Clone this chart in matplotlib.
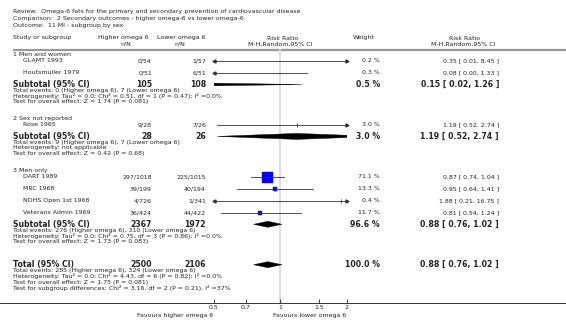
import numpy as np
import matplotlib
matplotlib.use('Agg')
import matplotlib.pyplot as plt
from matplotlib.patches import Polygon

# Header text
title_lines = ['Review:  Omega-6 fats for the primary and secondary prevention of cardiovascular disease',
               'Comparison:  2 Secondary outcomes - higher omega-6 vs lower omega-6',
               'Outcome:  11 MI - subgroup by sex']

# Study level data
group_names = ['1 Men and women', '2 Sex not reported', '3 Men only']
study_group = [0, 0, 1, 2, 2, 2, 2]
studies = ['GLAMT 1993', 'Houtsmuller 1979', 'Rose 1965', 'DART 1989', 'MRC 1968',
           'NDHS Open 1st 1968', 'Veterans Admin 1969']
higher_nN = ['0/54', '0/51', '9/28', '197/1018', '39/199', '4/726', '36/424']
lower_nN = ['1/57', '6/51', '7/26', '225/1015', '40/194', '1/341', '44/422']
rr = [0.35, 0.08, 1.19, 0.87, 0.95, 1.88, 0.81]
rr_lo = [0.01, 0.00, 0.52, 0.74, 0.64, 0.21, 0.54]
rr_hi = [8.45, 1.33, 2.74, 1.04, 1.41, 16.75, 1.24]
weights = [0.2, 0.3, 3.0, 71.1, 13.3, 0.4, 11.7]

# Subgroup totals
sub_higher_n = [105, 28, 2367]
sub_lower_n = [108, 26, 1972]
sub_weight = [0.5, 3.0, 96.6]
sub_rr = [0.15, 1.19, 0.88]
sub_lo = [0.02, 0.52, 0.76]
sub_hi = [1.26, 2.74, 1.02]
sub_notes = [
    ['Total events: 0 (Higher omega 6), 7 (Lower omega 6)',
     'Heterogeneity: Tau\u00b2 = 0.0; Chi\u00b2 = 0.51, df = 1 (P = 0.47); I\u00b2 =0.0%',
     'Test for overall effect: Z = 1.74 (P = 0.081)'],
    ['Total events: 9 (Higher omega 6), 7 (Lower omega 6)',
     'Heterogeneity: not applicable',
     'Test for overall effect: Z = 0.42 (P = 0.68)'],
    ['Total events: 276 (Higher omega 6), 310 (Lower omega 6)',
     'Heterogeneity: Tau\u00b2 = 0.0; Chi\u00b2 = 0.75, df = 3 (P = 0.86); I\u00b2 =0.0%',
     'Test for overall effect: Z = 1.73 (P = 0.083)'],
]

# Overall total
tot_higher_n = 2500
tot_lower_n = 2106
tot_weight = 100.0
tot_rr, tot_lo, tot_hi = 0.88, 0.76, 1.02
tot_notes = ['Total events: 285 (Higher omega 6), 324 (Lower omega 6)',
             'Heterogeneity: Tau\u00b2 = 0.0; Chi\u00b2 = 4.43, df = 6 (P = 0.82); I\u00b2 =0.0%',
             'Test for overall effect: Z = 1.75 (P = 0.081)',
             'Test for subgroup differences: Chi\u00b2 = 3.16, df = 2 (P = 0.21), I\u00b2 =37%']

xticks = [0.5, 0.7, 1, 1.5, 2]
xtick_labels = ['0.5', '0.7', '1', '1.5', '2']
fav_left = 'Favours higher omega 6'
fav_right = 'Favours lower omega 6'

# layout (pixels)
W, H = 566, 324
X0, X1 = 213.5, 346.5      # plot area for 0.5 .. 2
AXIS_Y = 303
FS = 4.5
FSB = 5.6
TXT = '#222222'

fig = plt.figure(figsize=(W / 100, H / 100), dpi=100)
ax = fig.add_axes([0, 0, 1, 1])
ax.set_xlim(0, W)
ax.set_ylim(H, 0)
ax.axis('off')

fx = fig.add_axes([X0 / W, (H - AXIS_Y) / H, (X1 - X0) / W, AXIS_Y / H])
fx.set_xscale('log')
fx.set_xlim(0.5, 2)
fx.set_ylim(AXIS_Y, 0)
fx.patch.set_alpha(0)
for s in fx.spines.values():
    s.set_visible(False)
fx.set_yticks([])
fx.set_xticks(xticks)
fx.set_xticklabels(xtick_labels)
fx.xaxis.set_minor_locator(matplotlib.ticker.NullLocator())
fx.tick_params(axis='x', direction='in', length=3, width=0.6, pad=1.5,
               labelsize=FS, colors=TXT)


def t(x, y, s, ha='left', bold=False, size=None):
    ax.text(x, y, s, ha=ha, va='center', color=TXT,
            fontsize=size or (FSB if bold else FS),
            fontweight='bold' if bold else 'normal')


def ci_text(r, lo, hi):
    return '%.2f [ %.2f, %.2f ]' % (r, lo, hi)


# title and column headers
for i, line in enumerate(title_lines):
    t(13, 12 + i * 6.5, line)
t(13, 38, 'Study or subgroup')
t(123, 38, 'Higher omega 6', ha='center')
t(125.5, 44, 'n/N', ha='center')
t(181, 38, 'Lower omega 6', ha='center')
t(180, 44, 'n/N', ha='center')
t(283, 38, 'Risk Ratio', ha='center')
t(280, 44, 'M-H,Random,95% CI', ha='center')
t(364, 38, 'Weight', ha='center')
t(465, 38, 'Risk Ratio', ha='center')
t(463, 44, 'M-H,Random,95% CI', ha='center')
ax.plot([13, W], [49.5, 49.5], color='#999999', lw=1.6, solid_capstyle='butt')


def draw_study(y, r, lo, hi, w):
    left = max(lo, 0.5)
    right = min(hi, 2)
    fx.plot([left, right], [y, y], color='#333333', lw=0.6, zorder=3)
    if lo < 0.5:
        fx.plot([0.5], [y], marker='<', ms=2.2, color='#333333', clip_on=False, zorder=3)
    if hi > 2:
        fx.plot([2], [y], marker='>', ms=2.2, color='#333333', clip_on=False, zorder=3)
    if 0.5 <= r <= 2:
        side = 11 * np.sqrt(w / 71.1)
        if side >= 3:
            fx.plot([r], [y], marker='s', ms=side * 0.72, mfc='#0000ff',
                    mec='#1a1a80', mew=0.3, zorder=2)
        fx.plot([r], [y], marker='|', ms=3, mew=0.6, color='#333333', zorder=4)


def draw_diamond(y, r, lo, hi, h=3.0):
    poly = Polygon([(max(lo, 1e-3), y), (r, y - h), (hi, y), (r, y + h)],
                   closed=True, facecolor='black', edgecolor='black', lw=0.3, zorder=3)
    fx.add_patch(poly)


# walk through the rows
y = 55
si = 0
for g, gname in enumerate(group_names):
    t(13, y, gname)
    y += 6
    idx = [i for i in range(len(studies)) if study_group[i] == g]
    for k, i in enumerate(idx):
        if k > 0:
            y += 12
        t(23, y, studies[i])
        t(152, y, higher_nN[i], ha='right')
        t(206, y, lower_nN[i], ha='right')
        t(380, y, '%.1f %%' % weights[i], ha='right')
        t(499, y, ci_text(rr[i], rr_lo[i], rr_hi[i]), ha='right')
        draw_study(y, rr[i], rr_lo[i], rr_hi[i], weights[i])
    y += 11.5
    t(13, y, 'Subtotal (95% CI)', bold=True)
    t(152, y, str(sub_higher_n[g]), ha='right', bold=True)
    t(206, y, str(sub_lower_n[g]), ha='right', bold=True)
    t(380, y, '%.1f %%' % sub_weight[g], ha='right', bold=True)
    t(499, y, ci_text(sub_rr[g], sub_lo[g], sub_hi[g]), ha='right', bold=True)
    draw_diamond(y, sub_rr[g], sub_lo[g], sub_hi[g])
    for note in sub_notes[g]:
        y += 5.8
        t(13, y, note)
    y += 17

y += 6
t(13, y, 'Total (95% CI)', bold=True)
t(152, y, str(tot_higher_n), ha='right', bold=True)
t(206, y, str(tot_lower_n), ha='right', bold=True)
t(380, y, '%.1f %%' % tot_weight, ha='right', bold=True)
t(499, y, ci_text(tot_rr, tot_lo, tot_hi), ha='right', bold=True)
draw_diamond(y, tot_rr, tot_lo, tot_hi)
for note in tot_notes:
    y += 5.8
    t(13, y, note)

# null line and axis
fx.axvline(1, ymin=0, ymax=1 - 50 / AXIS_Y, color='#dddddd', lw=1.5, zorder=1)
ax.plot([0, W], [AXIS_Y, AXIS_Y], color='#333333', lw=0.7)
t(X0, AXIS_Y + 13, fav_left, ha='right')
t(X1, AXIS_Y + 13, fav_right, ha='right')

fig.savefig('out.png', dpi=100)
